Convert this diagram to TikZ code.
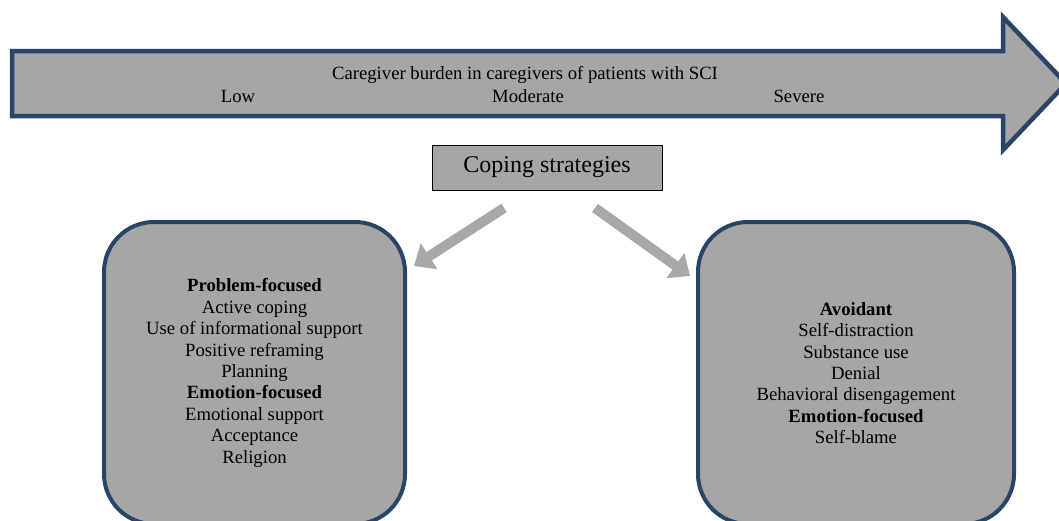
\documentclass[tikz,border=0pt]{standalone}
\usepackage{fontspec}
\setmainfont{Liberation Serif}
\usetikzlibrary{arrows.meta}
\definecolor{navy}{HTML}{2A4466}
\definecolor{boxgrey}{HTML}{A6A6A6}
\definecolor{arrgrey}{HTML}{A8A8A8}
\tikzset{
  lbl/.style={font=\fontsize{18.7}{21.4}\selectfont, inner sep=0pt},
  catbox/.style={draw=navy, line width=4pt, fill=boxgrey, rounded corners=50pt,
    align=center, inner sep=0pt, font=\fontsize{18.7}{21.4}\selectfont},
  copebox/.style={draw=black, line width=0.8pt, fill=boxgrey, inner sep=0pt,
    minimum width=230pt, minimum height=45pt, font=\fontsize{24}{28}\selectfont},
  flowarrow/.style={draw=arrgrey, line width=10pt, -{Triangle[length=18pt,width=30pt]}},
}
\begin{document}
\begin{tikzpicture}[x=1pt,y=-1pt]
\useasboundingbox (0,0) rectangle (1059,520);
% big arrow
\draw[navy, line width=4.5pt, fill=boxgrey, line join=miter]
  (12,51) -- (1003,51) -- (1003,17) -- (1066,83.5) -- (1003,150) -- (1003,116) -- (12,116) -- cycle;
\node[lbl] (title) at (525,75) {Caregiver burden in caregivers of patients with SCI};
\node[lbl] (low) at (238,96) {Low};
\node[lbl] (moderate) at (528,96) {Moderate};
\node[lbl] (severe) at (799,96) {Severe};
% coping box
\node[copebox] (cope) at (547,167.5) {Coping strategies};
% category boxes
\node[catbox, minimum width=301pt, minimum height=302pt] (left) at (254.5,373)
  {\textbf{Problem-focused}\\Active coping\\Use of informational support\\Positive reframing\\Planning\\\textbf{Emotion-focused}\\Emotional support\\Acceptance\\Religion};
\node[catbox, minimum width=316pt, minimum height=302pt] (right) at (856,373)
  {\textbf{Avoidant}\\Self-distraction\\Substance use\\Denial\\Behavioral disengagement\\\textbf{Emotion-focused}\\Self-blame};
% grey arrows
\coordinate (lstart) at (504,208);
\coordinate (lend) at (414,266);
\coordinate (rstart) at (595,208);
\coordinate (rend) at (690,276);
\draw[flowarrow] (lstart) -- (lend);
\draw[flowarrow] (rstart) -- (rend);
\end{tikzpicture}
\end{document}
